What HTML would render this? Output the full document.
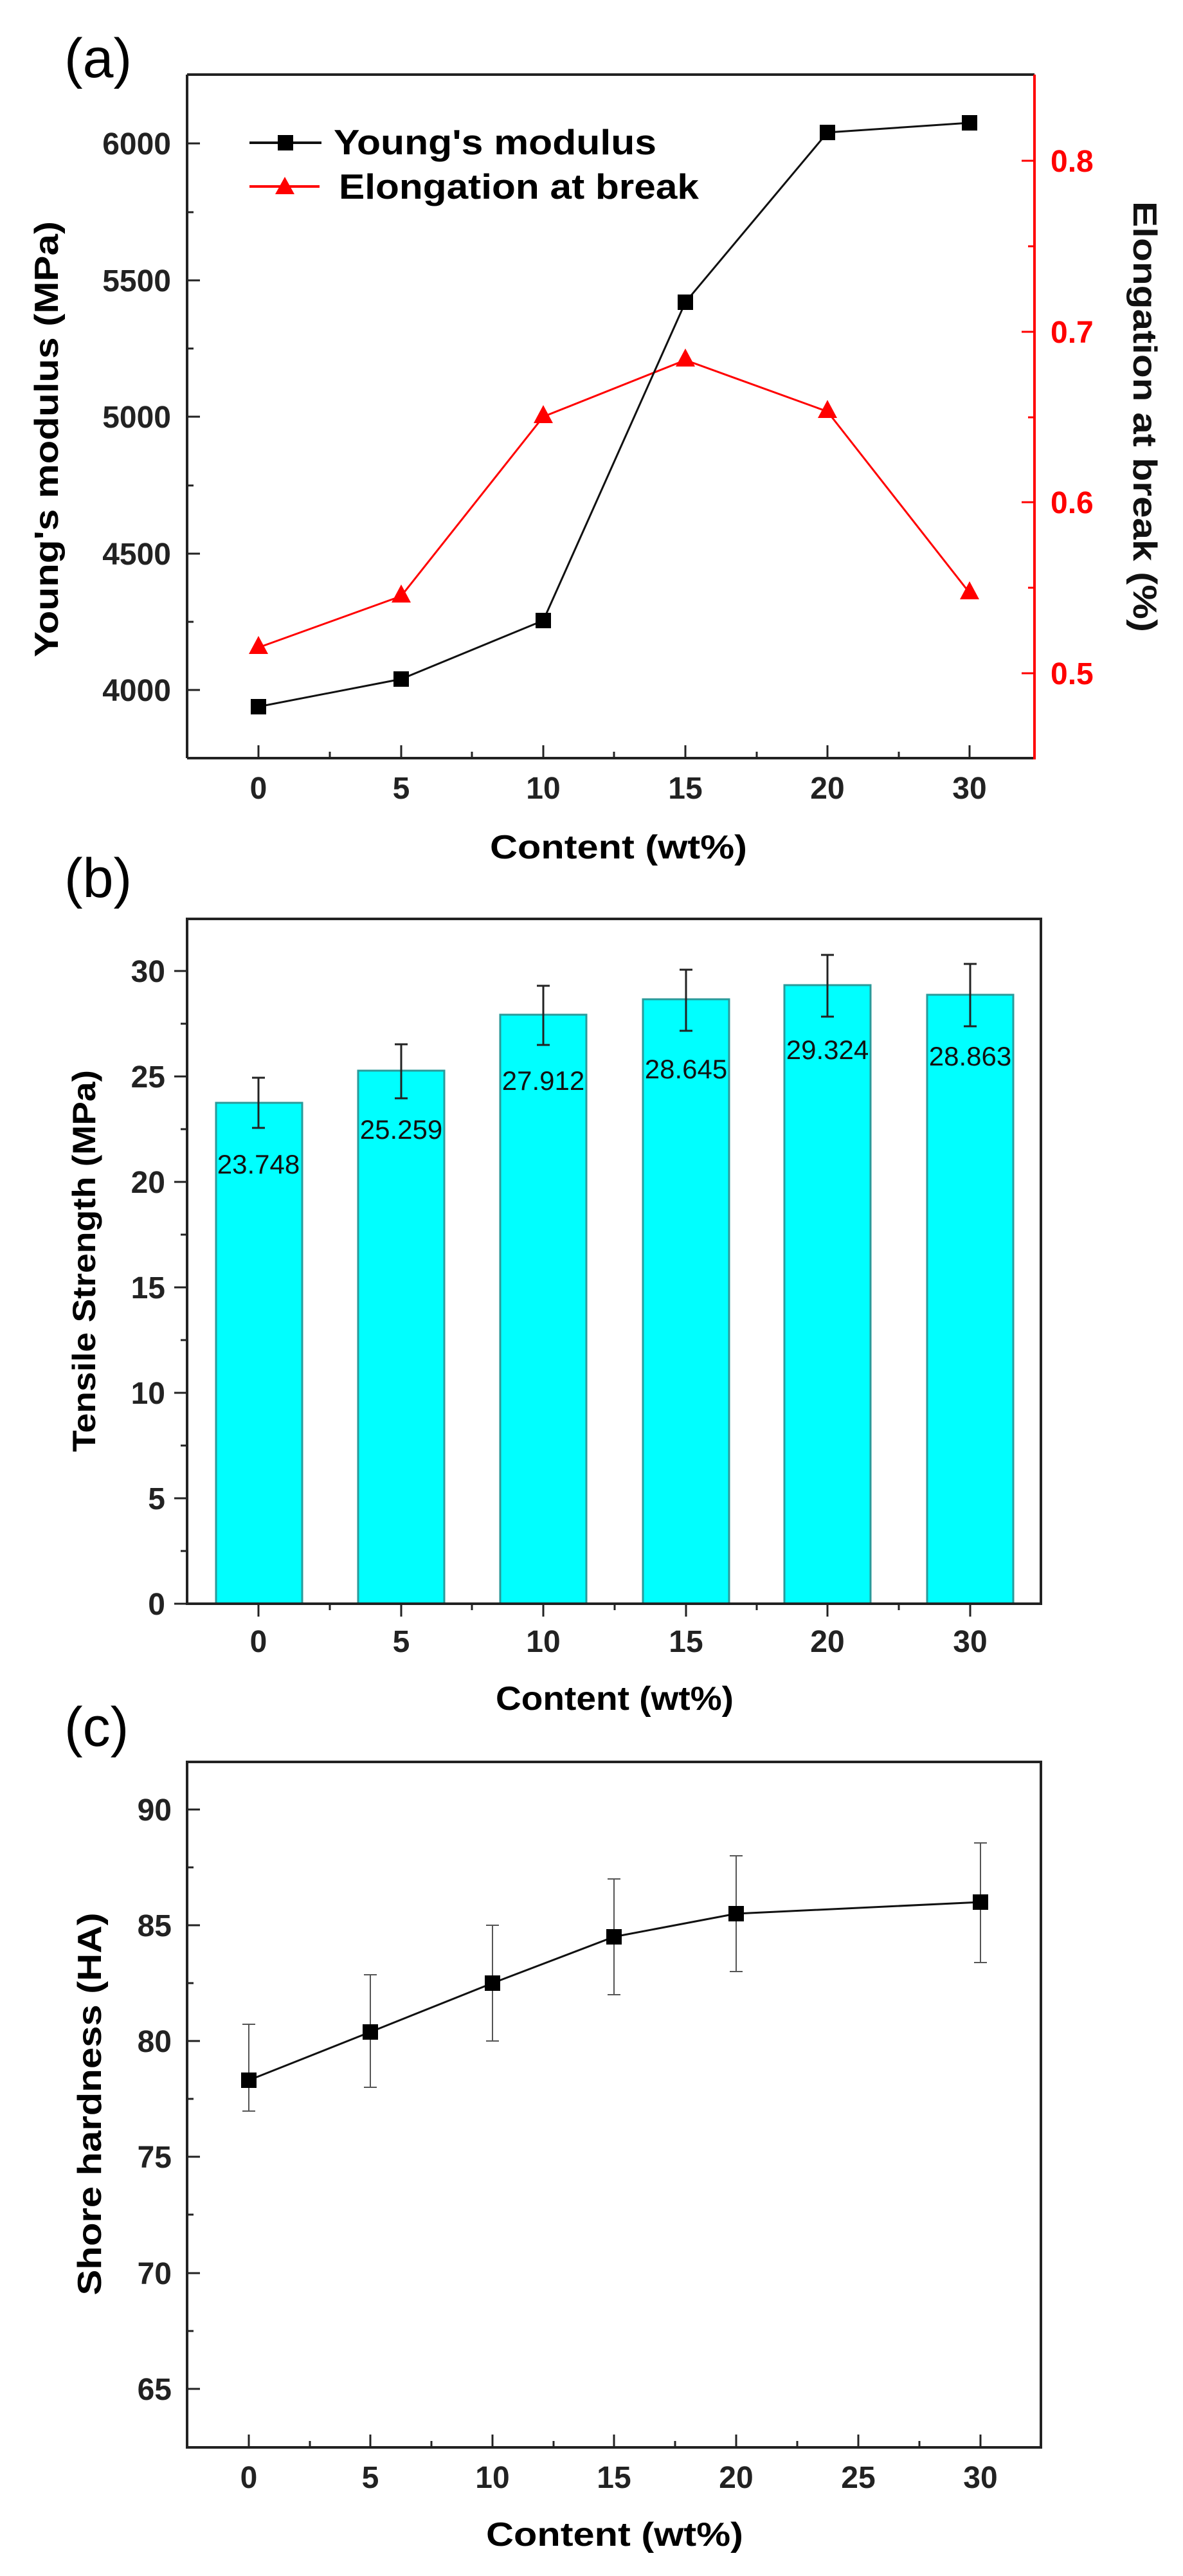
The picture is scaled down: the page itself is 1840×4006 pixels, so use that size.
<!DOCTYPE html>
<html><head><meta charset="utf-8"><style>html,body{margin:0;padding:0;background:#fff}svg{display:block}text{font-family:"Liberation Sans",Arial,sans-serif}</style></head><body>
<svg width="1840" height="4006" viewBox="0 0 1840 4006" xmlns="http://www.w3.org/2000/svg">
<rect width="1840" height="4006" fill="#fff"/>
<!-- Panel a -->
<text x="100" y="120" font-size="86">(a)</text>
<g stroke="#222" stroke-width="4" fill="none">
<line x1="291" y1="116" x2="1609" y2="116"/>
<line x1="291" y1="116" x2="291" y2="1179"/>
<line x1="291" y1="1179" x2="1609" y2="1179"/>
</g>
<line x1="1609" y1="116" x2="1609" y2="1181" stroke="#f00" stroke-width="4"/>
<g stroke="#222" stroke-width="3">
<line x1="291" y1="223" x2="311" y2="223"/><line x1="291" y1="330" x2="301" y2="330"/>
<line x1="291" y1="436" x2="311" y2="436"/><line x1="291" y1="542" x2="301" y2="542"/>
<line x1="291" y1="648" x2="311" y2="648"/><line x1="291" y1="755" x2="301" y2="755"/>
<line x1="291" y1="861" x2="311" y2="861"/><line x1="291" y1="967" x2="301" y2="967"/>
<line x1="291" y1="1073" x2="311" y2="1073"/>
<line x1="402" y1="1179" x2="402" y2="1159"/><line x1="513" y1="1179" x2="513" y2="1169"/>
<line x1="624" y1="1179" x2="624" y2="1159"/><line x1="734" y1="1179" x2="734" y2="1169"/>
<line x1="845" y1="1179" x2="845" y2="1159"/><line x1="955" y1="1179" x2="955" y2="1169"/>
<line x1="1066" y1="1179" x2="1066" y2="1159"/><line x1="1177" y1="1179" x2="1177" y2="1169"/>
<line x1="1287" y1="1179" x2="1287" y2="1159"/><line x1="1398" y1="1179" x2="1398" y2="1169"/>
<line x1="1508" y1="1179" x2="1508" y2="1159"/>
</g>
<g stroke="#f00" stroke-width="3">
<line x1="1609" y1="250" x2="1589" y2="250"/><line x1="1609" y1="383" x2="1599" y2="383"/>
<line x1="1609" y1="516" x2="1589" y2="516"/><line x1="1609" y1="649" x2="1599" y2="649"/>
<line x1="1609" y1="781" x2="1589" y2="781"/><line x1="1609" y1="914" x2="1599" y2="914"/>
<line x1="1609" y1="1047" x2="1589" y2="1047"/>
</g>
<g font-size="48" font-weight="bold" text-anchor="end" fill="#222">
<text x="266" y="240">6000</text><text x="266" y="453">5500</text><text x="266" y="665">5000</text><text x="266" y="878">4500</text><text x="266" y="1090">4000</text>
</g>
<g font-size="48" font-weight="bold" fill="#f00">
<text x="1634" y="267">0.8</text><text x="1634" y="533">0.7</text><text x="1634" y="798">0.6</text><text x="1634" y="1064">0.5</text>
</g>
<g font-size="48" font-weight="bold" text-anchor="middle" fill="#222">
<text x="402" y="1242">0</text><text x="624" y="1242">5</text><text x="845" y="1242">10</text><text x="1066" y="1242">15</text><text x="1287" y="1242">20</text><text x="1508" y="1242">30</text>
</g>
<text x="962" y="1335" font-size="52" font-weight="bold" text-anchor="middle" textLength="400" lengthAdjust="spacingAndGlyphs">Content (wt%)</text>
<text transform="translate(90,683) rotate(-90)" font-size="52" font-weight="bold" text-anchor="middle" textLength="678" lengthAdjust="spacingAndGlyphs">Young's modulus (MPa)</text>
<text transform="translate(1763,648) rotate(90)" font-size="52" font-weight="bold" text-anchor="middle" textLength="670" lengthAdjust="spacingAndGlyphs" fill="#111">Elongation at break (%)</text>
<!-- series -->
<polyline fill="none" stroke="#f00" stroke-width="3" points="402,1007 624,927 845,648 1066,560 1287,640 1508,922"/>
<g fill="#f00">
<polygon points="402,989 387,1017 417,1017"/><polygon points="624,909 609,937 639,937"/><polygon points="845,630 830,658 860,658"/><polygon points="1066,542 1051,570 1081,570"/><polygon points="1287,622 1272,650 1302,650"/><polygon points="1508,904 1493,932 1523,932"/>
</g>
<polyline fill="none" stroke="#111" stroke-width="3" points="402,1099 624,1056 845,965 1066,470 1287,206 1508,191"/>
<g fill="#000">
<rect x="390" y="1087" width="24" height="24"/><rect x="612" y="1044" width="24" height="24"/><rect x="833" y="953" width="24" height="24"/><rect x="1054" y="458" width="24" height="24"/><rect x="1275" y="194" width="24" height="24"/><rect x="1496" y="179" width="24" height="24"/>
</g>
<line x1="388" y1="222" x2="500" y2="222" stroke="#111" stroke-width="4"/><rect x="432" y="210" width="24" height="24"/>
<line x1="388" y1="290" x2="497" y2="290" stroke="#f00" stroke-width="4"/><polygon points="443,275 428,302 458,302" fill="#f00"/>
<text x="519" y="240" font-size="55" font-weight="bold" textLength="502" lengthAdjust="spacingAndGlyphs">Young's modulus</text>
<text x="527" y="309" font-size="55" font-weight="bold" textLength="560" lengthAdjust="spacingAndGlyphs">Elongation at break</text>

<!-- Panel b -->
<text x="100" y="1395" font-size="86">(b)</text>
<g fill="#00ffff" stroke="#2a9a9a" stroke-width="3">
<rect x="336" y="1715" width="134" height="779"/><rect x="557" y="1665" width="134" height="829"/><rect x="778" y="1578" width="134" height="916"/><rect x="1000" y="1554" width="134" height="940"/><rect x="1220" y="1532" width="134" height="962"/><rect x="1442" y="1547" width="134" height="947"/>
</g>
<g stroke="#222" stroke-width="4" fill="none"><rect x="291" y="1429" width="1328" height="1065"/></g>
<g stroke="#222" stroke-width="3">
<line x1="402" y1="1676" x2="402" y2="1754"/><line x1="392" y1="1676" x2="412" y2="1676"/><line x1="392" y1="1754" x2="412" y2="1754"/>
<line x1="624" y1="1624" x2="624" y2="1708"/><line x1="614" y1="1624" x2="634" y2="1624"/><line x1="614" y1="1708" x2="634" y2="1708"/>
<line x1="845" y1="1533" x2="845" y2="1625"/><line x1="835" y1="1533" x2="855" y2="1533"/><line x1="835" y1="1625" x2="855" y2="1625"/>
<line x1="1067" y1="1508" x2="1067" y2="1603"/><line x1="1057" y1="1508" x2="1077" y2="1508"/><line x1="1057" y1="1603" x2="1077" y2="1603"/>
<line x1="1287" y1="1485" x2="1287" y2="1581"/><line x1="1277" y1="1485" x2="1297" y2="1485"/><line x1="1277" y1="1581" x2="1297" y2="1581"/>
<line x1="1509" y1="1499" x2="1509" y2="1596"/><line x1="1499" y1="1499" x2="1519" y2="1499"/><line x1="1499" y1="1596" x2="1519" y2="1596"/>
<line x1="271" y1="1510" x2="291" y2="1510"/><line x1="281" y1="1592" x2="291" y2="1592"/><line x1="271" y1="1674" x2="291" y2="1674"/><line x1="281" y1="1756" x2="291" y2="1756"/><line x1="271" y1="1838" x2="291" y2="1838"/><line x1="281" y1="1920" x2="291" y2="1920"/><line x1="271" y1="2002" x2="291" y2="2002"/><line x1="281" y1="2084" x2="291" y2="2084"/><line x1="271" y1="2166" x2="291" y2="2166"/><line x1="281" y1="2248" x2="291" y2="2248"/><line x1="271" y1="2330" x2="291" y2="2330"/><line x1="281" y1="2412" x2="291" y2="2412"/><line x1="271" y1="2494" x2="291" y2="2494"/>
<line x1="402" y1="2494" x2="402" y2="2514"/><line x1="513" y1="2494" x2="513" y2="2504"/><line x1="624" y1="2494" x2="624" y2="2514"/><line x1="734" y1="2494" x2="734" y2="2504"/><line x1="845" y1="2494" x2="845" y2="2514"/><line x1="956" y1="2494" x2="956" y2="2504"/><line x1="1067" y1="2494" x2="1067" y2="2514"/><line x1="1177" y1="2494" x2="1177" y2="2504"/><line x1="1287" y1="2494" x2="1287" y2="2514"/><line x1="1398" y1="2494" x2="1398" y2="2504"/><line x1="1509" y1="2494" x2="1509" y2="2514"/>
</g>
<g font-size="42" text-anchor="middle" fill="#111">
<text x="402" y="1825">23.748</text><text x="624" y="1771">25.259</text><text x="845" y="1695">27.912</text><text x="1067" y="1677">28.645</text><text x="1287" y="1647">29.324</text><text x="1509" y="1657">28.863</text>
</g>
<g font-size="48" font-weight="bold" text-anchor="end" fill="#222">
<text x="257" y="1527">30</text><text x="257" y="1691">25</text><text x="257" y="1855">20</text><text x="257" y="2019">15</text><text x="257" y="2183">10</text><text x="257" y="2347">5</text><text x="257" y="2511">0</text>
</g>
<g font-size="48" font-weight="bold" text-anchor="middle" fill="#222">
<text x="402" y="2569">0</text><text x="624" y="2569">5</text><text x="845" y="2569">10</text><text x="1067" y="2569">15</text><text x="1287" y="2569">20</text><text x="1509" y="2569">30</text>
</g>
<text x="956" y="2659" font-size="52" font-weight="bold" text-anchor="middle" textLength="370" lengthAdjust="spacingAndGlyphs">Content (wt%)</text>
<text transform="translate(148,1961) rotate(-90)" font-size="50" font-weight="bold" text-anchor="middle" textLength="594" lengthAdjust="spacingAndGlyphs">Tensile Strength (MPa)</text>

<!-- Panel c -->
<text x="100" y="2715" font-size="86">(c)</text>
<g stroke="#222" stroke-width="4" fill="none"><rect x="291" y="2740" width="1328" height="1066"/></g>
<g stroke="#222" stroke-width="3">
<line x1="291" y1="2814" x2="311" y2="2814"/><line x1="291" y1="2904" x2="301" y2="2904"/><line x1="291" y1="2994" x2="311" y2="2994"/><line x1="291" y1="3084" x2="301" y2="3084"/><line x1="291" y1="3174" x2="311" y2="3174"/><line x1="291" y1="3264" x2="301" y2="3264"/><line x1="291" y1="3354" x2="311" y2="3354"/><line x1="291" y1="3444" x2="301" y2="3444"/><line x1="291" y1="3535" x2="311" y2="3535"/><line x1="291" y1="3625" x2="301" y2="3625"/><line x1="291" y1="3715" x2="311" y2="3715"/>
<line x1="387" y1="3806" x2="387" y2="3786"/><line x1="482" y1="3806" x2="482" y2="3796"/><line x1="576" y1="3806" x2="576" y2="3786"/><line x1="671" y1="3806" x2="671" y2="3796"/><line x1="766" y1="3806" x2="766" y2="3786"/><line x1="861" y1="3806" x2="861" y2="3796"/><line x1="955" y1="3806" x2="955" y2="3786"/><line x1="1050" y1="3806" x2="1050" y2="3796"/><line x1="1145" y1="3806" x2="1145" y2="3786"/><line x1="1240" y1="3806" x2="1240" y2="3796"/><line x1="1335" y1="3806" x2="1335" y2="3786"/><line x1="1430" y1="3806" x2="1430" y2="3796"/><line x1="1525" y1="3806" x2="1525" y2="3786"/>
</g>
<g stroke="#555" stroke-width="2">
<line x1="387" y1="3148" x2="387" y2="3283"/><line x1="377" y1="3148" x2="397" y2="3148"/><line x1="377" y1="3283" x2="397" y2="3283"/>
<line x1="576" y1="3071" x2="576" y2="3246"/><line x1="566" y1="3071" x2="586" y2="3071"/><line x1="566" y1="3246" x2="586" y2="3246"/>
<line x1="766" y1="2994" x2="766" y2="3174"/><line x1="756" y1="2994" x2="776" y2="2994"/><line x1="756" y1="3174" x2="776" y2="3174"/>
<line x1="955" y1="2922" x2="955" y2="3102"/><line x1="945" y1="2922" x2="965" y2="2922"/><line x1="945" y1="3102" x2="965" y2="3102"/>
<line x1="1145" y1="2886" x2="1145" y2="3066"/><line x1="1135" y1="2886" x2="1155" y2="2886"/><line x1="1135" y1="3066" x2="1155" y2="3066"/>
<line x1="1525" y1="2866" x2="1525" y2="3052"/><line x1="1515" y1="2866" x2="1535" y2="2866"/><line x1="1515" y1="3052" x2="1535" y2="3052"/>
</g>
<polyline fill="none" stroke="#111" stroke-width="3" points="387,3235 576,3160 766,3084 955,3012 1145,2976 1525,2958"/>
<g fill="#000">
<rect x="375" y="3223" width="24" height="24"/><rect x="564" y="3148" width="24" height="24"/><rect x="754" y="3072" width="24" height="24"/><rect x="943" y="3000" width="24" height="24"/><rect x="1133" y="2964" width="24" height="24"/><rect x="1513" y="2946" width="24" height="24"/>
</g>
<g font-size="48" font-weight="bold" text-anchor="end" fill="#222">
<text x="267" y="2831">90</text><text x="267" y="3011">85</text><text x="267" y="3191">80</text><text x="267" y="3371">75</text><text x="267" y="3552">70</text><text x="267" y="3732">65</text>
</g>
<g font-size="48" font-weight="bold" text-anchor="middle" fill="#222">
<text x="387" y="3869">0</text><text x="576" y="3869">5</text><text x="766" y="3869">10</text><text x="955" y="3869">15</text><text x="1145" y="3869">20</text><text x="1335" y="3869">25</text><text x="1525" y="3869">30</text>
</g>
<text x="956" y="3959" font-size="52" font-weight="bold" text-anchor="middle" textLength="400" lengthAdjust="spacingAndGlyphs">Content (wt%)</text>
<text transform="translate(157,3272) rotate(-90)" font-size="52" font-weight="bold" text-anchor="middle" textLength="595" lengthAdjust="spacingAndGlyphs">Shore hardness (HA)</text>
</svg>
</body></html>
